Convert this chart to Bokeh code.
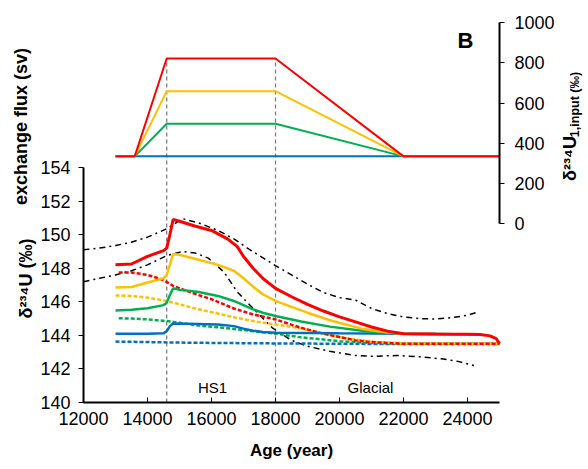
import math
from bokeh.plotting import figure
from bokeh.models import Range1d, LinearAxis, Label, FixedTicker
from bokeh.embed import file_html
from bokeh.resources import INLINE

# ---------------- data ----------------
age_flux = [13000, 13600, 14600, 18000, 22000, 25000]
flux_blue = [335, 335, 335, 335, 335, 335]
flux_green = [335, 335, 497, 497, 335, 335]
flux_yellow = [335, 335, 659, 659, 335, 335]
flux_red = [335, 335, 821, 821, 335, 335]

period_bounds = [14600, 18000]

age_red = [13000, 13500, 14000, 14500, 14600, 14700, 14800, 15000, 15500, 16000, 16500, 16800,
           17000, 17300, 17600, 18000, 18500, 19000, 19500, 20000, 20500, 21000, 21500, 22000,
           23000, 24000, 24400, 24700, 24900, 25000]
d_red = [148.2, 148.25, 148.7, 149.05, 149.2, 150.0, 150.9, 150.8, 150.5, 150.25, 149.75, 149.3,
         148.7, 148.0, 147.4, 146.8, 146.3, 145.85, 145.45, 145.1, 144.8, 144.5, 144.25, 144.1,
         144.08, 144.07, 144.05, 143.97, 143.8, 143.5]

age_yellow = [13000, 13500, 14000, 14500, 14600, 14700, 14800, 15000, 15600, 16200, 16700, 17000,
              17300, 17600, 18000, 18500, 19000, 19700, 20200, 20700, 21200, 21800, 22000, 24400]
d_yellow = [146.85, 146.88, 147.15, 147.4, 147.6, 148.2, 148.85, 148.8, 148.5, 148.2, 147.85, 147.4,
            146.9, 146.45, 146.05, 145.7, 145.35, 144.9, 144.65, 144.4, 144.25, 144.13, 144.1, 144.05]

age_green = [13000, 13500, 14000, 14500, 14600, 14700, 14800, 15000, 15600, 16200, 16700, 17000,
             17300, 17600, 18000, 18800, 19700, 20700, 21500, 22000, 24400]
d_green = [145.48, 145.52, 145.62, 145.8, 145.95, 146.4, 146.8, 146.72, 146.58, 146.35, 146.05, 145.8,
           145.55, 145.35, 145.15, 144.82, 144.52, 144.27, 144.15, 144.1, 144.05]

age_blue = [13000, 13500, 14000, 14500, 14600, 14700, 14800, 15600, 16200, 16700, 17000, 17300,
            17600, 18000, 20000, 22000, 24400]
d_blue = [144.1, 144.1, 144.1, 144.12, 144.25, 144.55, 144.7, 144.68, 144.65, 144.55, 144.4, 144.28,
          144.2, 144.15, 144.12, 144.1, 144.05]

age_red_d = [13100, 13500, 14000, 14500, 14800, 15000, 15600, 16000, 16700, 17300, 18000, 18800,
             19500, 20000, 20500, 21000, 21500, 22000, 25000]
d_red_d = [147.75, 147.75, 147.6, 147.3, 146.95, 146.8, 146.4, 146.15, 145.6, 145.25, 144.95, 144.45,
           144.1, 143.9, 143.7, 143.6, 143.55, 143.5, 143.5]

age_yellow_d = [13000, 13500, 14000, 14600, 15000, 15600, 16200, 16700, 17300, 18000, 18800, 19500,
                20000, 20500, 21000, 22000, 25000]
d_yellow_d = [146.38, 146.35, 146.25, 146.05, 145.85, 145.55, 145.3, 145.08, 144.85, 144.65, 144.42,
              144.1, 143.9, 143.75, 143.62, 143.52, 143.5]

age_green_d = [13100, 13500, 14000, 14600, 15000, 15600, 16200, 16700, 17300, 18000, 18800, 19500,
               20000, 21000, 22000, 25000]
d_green_d = [145.02, 145.0, 144.95, 144.85, 144.75, 144.58, 144.48, 144.38, 144.25, 144.1, 143.88,
             143.75, 143.65, 143.55, 143.5, 143.5]

age_blue_d = [13000, 14000, 15000, 16000, 18000, 20000, 22000, 25000]
d_blue_d = [143.63, 143.6, 143.57, 143.55, 143.52, 143.5, 143.48, 143.48]

age_env_hi = [12000, 12500, 13000, 13500, 14000, 14600, 15100, 15600, 16200, 16700, 17200, 17500,
              18000, 18500, 19000, 19500, 20000, 20500, 21000, 21500, 22000, 22500, 23000, 23500,
              24000, 24300]
d_env_hi = [149.1, 149.2, 149.35, 149.55, 149.85, 150.35, 150.95, 150.7, 150.25, 149.75, 149.1, 148.75,
            148.15, 147.6, 147.05, 146.55, 146.25, 146.1, 145.6, 145.3, 145.1, 145.0, 144.97, 145.05,
            145.2, 145.38]

age_env_lo = [12000, 12500, 13000, 13500, 14000, 14600, 15100, 15500, 15900, 16400, 16800, 17300,
              17900, 18500, 19000, 19700, 20500, 21000, 21800, 22500, 23200, 23700, 24200]
d_env_lo = [147.2, 147.4, 147.6, 147.85, 148.2, 148.75, 149.0, 148.9, 148.6, 147.75, 146.6, 145.6,
            144.45, 143.7, 143.35, 143.05, 142.8, 142.75, 142.8, 142.72, 142.6, 142.45, 142.2]

x_ticks = [12000, 14000, 16000, 18000, 20000, 22000, 24000]
y_ticks = [140, 142, 144, 146, 148, 150, 152, 154]
r_ticks = [0, 200, 400, 600, 800, 1000]

RED, YEL, GRN, BLU = "#FF0000", "#FFC000", "#00B050", "#0070C0"
FONT = "Liberation Sans"

# ---------------- geometry (frame fills the canvas, axes at fixed locations) ----------------
W, H = 588, 469
AX_L, AX_R, AX_B = 83, 499, 402          # pixel positions of the three axis lines
X0, X1 = 12000, 25000
XPX = (AX_R - AX_L) / (X1 - X0)           # px per year
YPX = 235 / 14.0                          # px per permil (left axis)
RPX = 201.3 / 1000                        # px per unit (right axis)
R0_PY = 223.3                             # pixel row of right-axis zero

x_start = X0 - AX_L / XPX
x_end = X1 + (W - AX_R) / XPX
y_start = 140 - (H - AX_B) / YPX
y_end = 140 + AX_B / YPX
r_start = -(H - R0_PY) / RPX
r_end = R0_PY / RPX


def sx(px):
    return X0 + (px - AX_L) / XPX


def sy(py):
    return 140 + (AX_B - py) / YPX


p = figure(width=W, height=H, x_range=Range1d(x_start, x_end), y_range=Range1d(y_start, y_end),
           output_backend="svg", toolbar_location=None, title_location=None,
           min_border_left=0, min_border_right=0, min_border_top=0, min_border_bottom=0)
p.outline_line_color = None
p.xgrid.visible = False
p.ygrid.visible = False

p.extra_y_ranges = {"r": Range1d(r_start, r_end)}

xa = p.xaxis[0]
xa.fixed_location = 140
xa.ticker = FixedTicker(ticks=x_ticks)
xa.bounds = (X0, X1)
xa.axis_line_width = 2
xa.major_tick_in = 5
xa.major_tick_out = 0
xa.minor_tick_line_color = None
xa.major_label_standoff = 9
xa.major_label_text_font = FONT
xa.major_label_text_font_size = "18px"
xa.major_label_text_color = "black"

ya = p.yaxis[0]
ya.fixed_location = X0
ya.ticker = FixedTicker(ticks=y_ticks)
ya.bounds = (140, 154)
ya.axis_line_width = 2
ya.major_tick_in = 0
ya.major_tick_out = 5
ya.minor_tick_line_color = None
ya.major_label_standoff = 8
ya.major_label_text_font = FONT
ya.major_label_text_font_size = "18px"
ya.major_label_text_color = "black"

ra = LinearAxis(y_range_name="r", ticker=FixedTicker(ticks=r_ticks), bounds=(0, 1000),
                fixed_location=X1)
ra.axis_line_width = 2
ra.major_tick_in = 0
ra.major_tick_out = 5
ra.minor_tick_line_color = None
ra.major_label_standoff = 10
ra.major_label_text_font = FONT
ra.major_label_text_font_size = "18px"
ra.major_label_text_color = "black"
p.add_layout(ra, "right")

p.segment(x0=period_bounds, x1=period_bounds, y0=[140] * 2,
          y1=[sy(R0_PY - max(flux_red) * RPX)] * 2,
          line_color="#808080", line_width=1.3, line_dash="4 3")

for ys, c in [(flux_blue, BLU), (flux_green, GRN), (flux_yellow, YEL), (flux_red, RED)]:
    p.line(age_flux, ys, y_range_name="r", line_color=c, line_width=2)

p.line(age_env_hi, d_env_hi, line_color="black", line_width=1.5, line_dash="6 4 2 4")
p.line(age_env_lo, d_env_lo, line_color="black", line_width=1.5, line_dash="6 4 2 4")

for xs, ys, c in [(age_blue_d, d_blue_d, BLU), (age_green_d, d_green_d, GRN),
                  (age_yellow_d, d_yellow_d, YEL), (age_red_d, d_red_d, RED)]:
    p.line(xs, ys, line_color=c, line_width=2.5, line_dash="4 2")

for xs, ys, c, w in [(age_blue, d_blue, BLU, 2.5), (age_green, d_green, GRN, 2.5),
                     (age_yellow, d_yellow, YEL, 2.5), (age_red, d_red, RED, 3)]:
    p.line(xs, ys, line_color=c, line_width=w)


def lab(px, py, text, size, bold=False, angle=0.0, align="center"):
    p.add_layout(Label(x=sx(px), y=sy(py), text=text, angle=angle,
                       text_font=FONT, text_font_size=size,
                       text_font_style="bold" if bold else "normal",
                       text_align=align, text_baseline="middle", text_color="black"))


lab(20, 126, "exchange flux (sv)", "18px", bold=True, angle=math.pi / 2)
lab(25, 278, "δ²³⁴U (‰)", "18px", bold=True, angle=math.pi / 2)
lab(569, 158, "δ²³⁴U", "18px", bold=True, angle=math.pi / 2)
lab(574, 104, "1,input (‰)", "12.5px", bold=True, angle=math.pi / 2)
lab(291, 450, "Age (year)", "17px", bold=True)
lab(212, 387, "HS1", "15px")
lab(370, 387, "Glacial", "15px")
lab(465, 40, "B", "22px", bold=True)

open("out.html", "w").write(file_html(p, INLINE))
